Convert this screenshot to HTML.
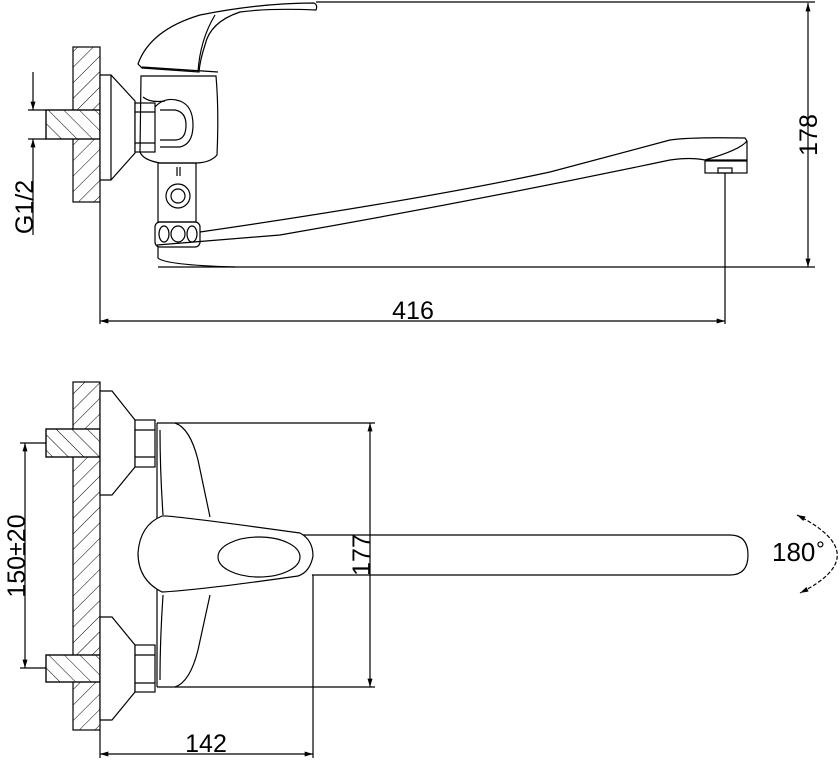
<!DOCTYPE html>
<html><head><meta charset="utf-8"><style>
html,body{margin:0;padding:0;background:#fff;}
svg{display:block;}
text{font-family:"Liberation Sans",Arial,sans-serif;fill:#000;}
</style></head><body>
<svg width="840" height="760" viewBox="0 0 840 760" xmlns="http://www.w3.org/2000/svg">
<defs>
<pattern id="h1" patternUnits="userSpaceOnUse" width="11" height="11" patternTransform="rotate(45)">
<line x1="0" y1="0" x2="0" y2="11" stroke="#000" stroke-width="1"/>
</pattern>
<pattern id="h2" patternUnits="userSpaceOnUse" width="11" height="11" patternTransform="rotate(-45)">
<line x1="0" y1="0" x2="0" y2="11" stroke="#000" stroke-width="1"/>
</pattern>
<marker id="a" viewBox="0 0 10 6" refX="10" refY="3" markerWidth="13" markerHeight="5" markerUnits="userSpaceOnUse" orient="auto-start-reverse">
<path d="M0,0 L10,3 L0,6 Z" fill="#000"/>
</marker>
</defs>
<g fill="none" stroke="#000" stroke-width="1.2">
<!-- TOP VIEW -->
<rect x="73" y="47" width="27" height="155" fill="url(#h1)"/>
<rect x="46" y="110" width="54" height="29" fill="#fff"/>
<rect x="46" y="110" width="54" height="29" fill="url(#h2)"/>
<line x1="100" y1="202" x2="100" y2="324"/>
<path d="M100,75 L111,75 L135,101 L135,153 L111,180 L100,180 Z" fill="#fff"/>
<line x1="111" y1="75" x2="111" y2="180"/>
<rect x="135" y="103" width="20" height="49" fill="#fff"/>
<line x1="135" y1="112" x2="155" y2="112"/><line x1="135" y1="143" x2="155" y2="143"/>
<path d="M141,76 L216,76 Q219,110 217,155 Q210,163 195,163 L160,163 Q143,160 140,152 Z"/>
<path d="M155,107 Q165,96 180,101 Q193,106 193,125 Q193,144 180,147 L160,147 M160,110 L175,110 Q186,112 186,125 Q186,140 175,140 L160,140"/>
<path d="M143,97 Q150,103 165,101"/>
<path d="M138,64 Q150,30 200,15 Q260,3 314,3 Q318,5 316,10 Q270,8 240,12 Q210,22 205,45 Q200,60 199,72 Q170,70 142,68 Z" fill="#fff"/>
<path d="M215,15 Q200,40 198,72 M218,72 L142,67"/>
<rect x="158" y="163" width="38" height="59"/>
<line x1="177" y1="167" x2="177" y2="176"/><line x1="180" y1="167" x2="180" y2="176"/>
<circle cx="178" cy="196" r="12"/><circle cx="178" cy="196" r="7"/>
<rect x="155" y="222" width="45" height="25" rx="5"/>
<ellipse cx="164" cy="234" rx="5" ry="8"/><ellipse cx="178" cy="234" rx="7" ry="8"/><ellipse cx="192" cy="234" rx="5" ry="8"/>
<path d="M158,247 L158,258 Q165,265 235,267"/>
<path d="M157,245 L280,235 Q480,200 670,160 Q690,157 705,160"/>
<path d="M200,232 Q420,200 550,172 Q640,148 670,140 Q690,137 745,138 L747,141 L747,160 L705,160 Q740,150 747,141"/>
<rect x="705" y="161" width="42" height="12"/>
<rect x="718" y="168" width="14" height="5"/>
<line x1="725" y1="173" x2="725" y2="324"/>
<line x1="158" y1="267" x2="815" y2="267"/>
<line x1="316" y1="2" x2="815" y2="2"/>
<line x1="808" y1="3" x2="808" y2="267" marker-start="url(#a)" marker-end="url(#a)"/>
<line x1="100" y1="321" x2="725" y2="321" marker-start="url(#a)" marker-end="url(#a)"/>
<line x1="28" y1="110" x2="46" y2="110"/><line x1="28" y1="139" x2="46" y2="139"/>
<line x1="33" y1="72" x2="33" y2="110" marker-end="url(#a)"/>
<line x1="33" y1="235" x2="33" y2="139" marker-end="url(#a)"/>

<!-- BOTTOM VIEW -->
<rect x="73" y="382" width="27" height="348" fill="url(#h1)"/>
<rect x="46" y="429" width="54" height="28" fill="#fff"/>
<rect x="46" y="429" width="54" height="28" fill="url(#h2)"/>
<rect x="46" y="655" width="54" height="27" fill="#fff"/>
<rect x="46" y="655" width="54" height="27" fill="url(#h2)"/>
<line x1="100" y1="730" x2="100" y2="758"/>
<path d="M100,391 L112,391 L135,420 L135,467 L112,495 L100,495 Z" fill="#fff"/>
<path d="M100,617 L112,617 L135,645 L135,692 L112,720 L100,720 Z" fill="#fff"/>
<rect x="135" y="420" width="20" height="47" fill="#fff"/>
<line x1="135" y1="430" x2="155" y2="430"/><line x1="135" y1="457" x2="155" y2="457"/>
<rect x="135" y="645" width="20" height="47" fill="#fff"/>
<line x1="135" y1="655" x2="155" y2="655"/><line x1="135" y1="683" x2="155" y2="683"/>
<path d="M157,423 L175,423 Q190,428 198,460 L210,517"/>
<path d="M157,687 L175,687 Q190,682 198,650 L210,595"/>
<line x1="157" y1="423" x2="157" y2="687"/>
<path d="M160,430 Q160,470 163,515 M160,680 Q160,640 163,595"/>
<path d="M300,535 L730,535 Q748,535 748,555 Q748,575 730,575 L312,575"/>
<path d="M162,516 Q170,515 300,533 Q313,540 313,556 Q310,572 298,576 Q200,590 162,592 Q138,580 138,553 Q140,525 162,516 Z" fill="#fff"/>
<ellipse cx="259" cy="557" rx="41" ry="20"/>
<line x1="175" y1="423" x2="375" y2="423"/>
<line x1="175" y1="687" x2="375" y2="687"/>
<line x1="370" y1="423" x2="370" y2="687" marker-start="url(#a)" marker-end="url(#a)"/>
<line x1="313" y1="575" x2="313" y2="758"/>
<line x1="100" y1="754" x2="313" y2="754" marker-start="url(#a)" marker-end="url(#a)"/>
<line x1="20" y1="443" x2="46" y2="443"/><line x1="20" y1="668" x2="46" y2="668"/>
<line x1="25" y1="443" x2="25" y2="668" marker-start="url(#a)" marker-end="url(#a)"/>
<path d="M797,515 Q876,555 800,593" stroke-dasharray="4,2" marker-start="url(#a)" marker-end="url(#a)"/>
</g>
<text x="413" y="319" font-size="25" text-anchor="middle">416</text>
<text transform="translate(817,135) rotate(-90)" font-size="25" text-anchor="middle">178</text>
<text transform="translate(33,207) rotate(-90)" font-size="25" text-anchor="middle">G1/2</text>
<text transform="translate(370,555) rotate(-90)" font-size="25" text-anchor="middle">177</text>
<text x="206" y="752" font-size="25" text-anchor="middle">142</text>
<text transform="translate(25,556) rotate(-90)" font-size="25" text-anchor="middle">150±20</text>
<text x="772" y="561" font-size="26">180</text>
<text x="816" y="557" font-size="22">°</text>
</svg>
</body></html>
